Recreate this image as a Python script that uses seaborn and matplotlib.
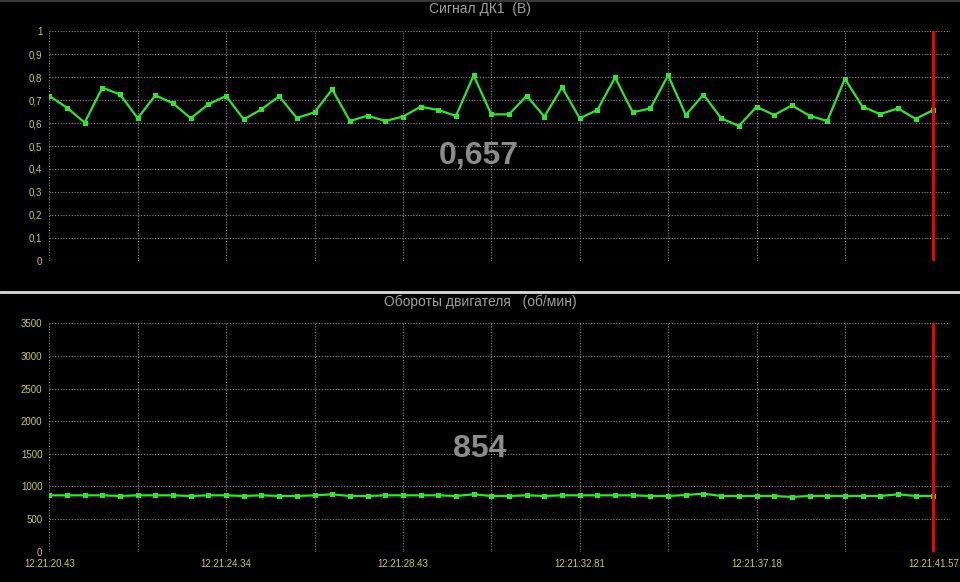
import matplotlib
matplotlib.use("Agg")
import matplotlib.pyplot as plt
from matplotlib.lines import Line2D
from matplotlib.ticker import FixedLocator
import seaborn as sns
import pandas as pd
import numpy as np

# ---------------- data ----------------
dk1_values = [0.718, 0.667, 0.602, 0.754, 0.725, 0.621, 0.721, 0.686, 0.621, 0.682,
              0.718, 0.616, 0.660, 0.717, 0.622, 0.647, 0.747, 0.609, 0.632, 0.609,
              0.628, 0.671, 0.657, 0.631, 0.808, 0.638, 0.638, 0.719, 0.628, 0.756,
              0.621, 0.657, 0.799, 0.647, 0.664, 0.808, 0.635, 0.724, 0.621, 0.587,
              0.671, 0.635, 0.677, 0.632, 0.609, 0.793, 0.671, 0.639, 0.664, 0.618,
              0.657]
rpm_values = [864, 864, 864, 864, 854, 864, 864, 864, 854, 864,
              864, 854, 864, 854, 854, 864, 879, 854, 854, 864,
              864, 864, 864, 854, 879, 854, 854, 864, 854, 864,
              864, 864, 864, 864, 854, 854, 869, 889, 854, 854,
              854, 854, 839, 854, 854, 854, 854, 854, 879, 854,
              854]
time_tick_index = [0, 10, 20, 30, 40, 50]
time_tick_labels = ["12:21:20.43", "12:21:24.34", "12:21:28.43",
                    "12:21:32.81", "12:21:37.18", "12:21:41.57"]
dk1_ticks = [0, 0.1, 0.2, 0.3, 0.4, 0.5, 0.6, 0.7, 0.8, 0.9, 1.0]
dk1_tick_labels = ["0", "0,1", "0,2", "0,3", "0,4", "0,5", "0,6", "0,7", "0,8", "0,9", "1"]
rpm_ticks = [0, 500, 1000, 1500, 2000, 2500, 3000, 3500]
rpm_tick_labels = ["0", "500", "1000", "1500", "2000", "2500", "3000", "3500"]
title_top = "Сигнал ДК1  (В)"
title_bottom = "Обороты двигателя   (об/мин)"
current_dk1 = "0,657"
current_rpm = "854"

# ---------------- style ----------------
sns.set_theme(style="dark")
plt.rcParams["font.family"] = ["Liberation Sans", "DejaVu Sans"]

BG = "#000000"
GREEN = "#2ee62e"
TICKC = "#cccc44"
GRIDC = "#8a8a8a"
TITLEC = "#a0a0a0"
BIGC = "#8c8c8c"

W, H = 960, 582
fig = plt.figure(figsize=(W / 100, H / 100), dpi=100, facecolor=BG)

def fx(px):
    return px / W

def fy(py):
    return 1 - py / H

x_left, x_right = 49.3, 950
ax1 = fig.add_axes([fx(x_left), fy(260.7), fx(x_right - x_left), fy(31.3) - fy(260.7)])
ax2 = fig.add_axes([fx(x_left), fy(551.7), fx(x_right - x_left), fy(323.3) - fy(551.7)])

n = len(dk1_values)
df = pd.DataFrame({"idx": np.arange(n), "dk1": dk1_values, "rpm": rpm_values})
step_px = 17.68
xmax = (x_right - x_left) / step_px

for ax, col, ticks, labels, ylim in [
    (ax1, "dk1", dk1_ticks, dk1_tick_labels, (0, 1.0)),
    (ax2, "rpm", rpm_ticks, rpm_tick_labels, (0, 3500)),
]:
    ax.set_facecolor(BG)
    sns.lineplot(data=df, x="idx", y=col, ax=ax, color=GREEN, linewidth=1.6,
                 marker="s", markersize=3.6, markeredgewidth=0, markerfacecolor=GREEN)
    ax.set_xlim(0, xmax)
    ax.set_ylim(*ylim)
    ax.set_yticks(ticks)
    ax.set_yticklabels(labels)
    ax.xaxis.set_major_locator(FixedLocator(time_tick_index))
    ax.xaxis.set_minor_locator(FixedLocator([i + 5 for i in time_tick_index[:-1]]))
    ax.grid(True, which="both", axis="x", color=GRIDC, linestyle=(0, (1, 1.5)), linewidth=0.8)
    ax.grid(True, which="major", axis="y", color=GRIDC, linestyle=(0, (1, 1.5)), linewidth=0.8)
    ax.set_axisbelow(True)
    for s in ax.spines.values():
        s.set_visible(False)
    ax.tick_params(axis="y", colors=TICKC, labelsize=7, length=4, width=0.8,
                   color=GRIDC, pad=1)
    ax.tick_params(axis="x", which="both", length=0, colors=TICKC, labelsize=7, pad=5)
    ax.set_xlabel("")
    ax.set_ylabel("")
    ax.axvline(n - 1, color="#ff0000", linewidth=2)

ax1.set_xticklabels([])
ax2.set_xticklabels(time_tick_labels)

# titles and current values
fig.text(0.5, fy(9.5), title_top, ha="center", va="center", color=TITLEC, fontsize=10)
fig.text(0.5, fy(302), title_bottom, ha="center", va="center", color=TITLEC, fontsize=10)
fig.text(fx(479), fy(156.5), current_dk1, ha="center", va="center", color=BIGC,
         fontsize=23, fontweight="bold")
fig.text(fx(480), fy(449), current_rpm, ha="center", va="center", color=BIGC,
         fontsize=23, fontweight="bold")

# separators
fig.add_artist(Line2D([0, 1], [fy(1), fy(1)], color="#3a3a3a", linewidth=1.5))
fig.add_artist(Line2D([0, 1], [fy(291.7), fy(291.7)], color="#dcdcdc", linewidth=2))

fig.savefig("out.png", dpi=100, facecolor=BG)
